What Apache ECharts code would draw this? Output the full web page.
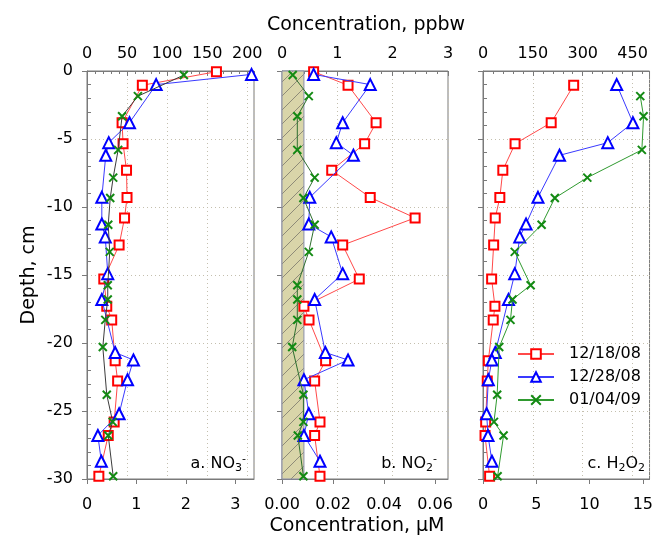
<!DOCTYPE html>
<html>
<head>
<meta charset="utf-8">
<script src="https://cdn.jsdelivr.net/npm/echarts@6/dist/echarts.min.js"></script>
<style>
  html, body { margin: 0; padding: 0; background: #fff; }
  #chart { width: 656px; height: 538px; }
</style>
</head>
<body>
<div id="chart"></div>
<script>
// Sampling dates
const dates = ['12/18/08', '12/28/08', '01/04/09'];

// Depths (cm) of each profile
const depth1218 = [-0.05, -1.05, -3.8, -5.35, -7.3, -9.3, -10.8, -12.8, -15.3, -17.3, -18.3, -21.3, -22.8, -25.8, -26.8, -29.8];
const depth1228 = [-0.25, -1.0, -3.8, -5.27, -6.2, -9.29, -11.25, -12.2, -14.9, -16.8, -20.7, -21.25, -22.7, -25.2, -26.8, -28.7];
const depth0104 = [-0.3, -1.85, -3.33, -5.8, -7.84, -9.34, -11.3, -13.3, -15.75, -16.8, -18.3, -20.3, -23.8, -25.8, -26.8, -29.8];

// Nitrate, µM
const no3_1218 = [2.62, 1.12, 0.71, 0.73, 0.80, 0.81, 0.76, 0.65, 0.34, 0.40, 0.50, 0.57, 0.62, 0.55, 0.43, 0.24];
const no3_1228 = [3.33, 1.40, 0.86, 0.44, 0.38, 0.30, 0.30, 0.37, 0.42, 0.30, 0.57, 0.94, 0.82, 0.65, 0.22, 0.29];
const no3_0104 = [1.96, 1.03, 0.71, 0.63, 0.53, 0.47, 0.43, 0.46, 0.42, 0.42, 0.37, 0.32, 0.40, 0.52, 0.43, 0.53];

// Nitrite, µM
const no2_1218 = [0.0124, 0.0259, 0.0369, 0.0324, 0.0195, 0.0346, 0.0522, 0.0238, 0.0303, 0.0086, 0.0106, 0.0171, 0.0128, 0.0149, 0.0128, 0.0149];
const no2_1228 = [0.0124, 0.0346, 0.0238, 0.0213, 0.0280, 0.0109, 0.0105, 0.0193, 0.0238, 0.0128, 0.0170, 0.0259, 0.0086, 0.0105, 0.0086, 0.0149];
const no2_0104 = [0.0042, 0.0105, 0.0060, 0.0060, 0.0128, 0.0084, 0.0128, 0.0105, 0.0060, 0.0060, 0.0060, 0.0040, 0.0084, 0.0084, 0.0062, 0.0084];
// Nitrite detection limit, µM (shaded band)
const no2DetectionLimit = 0.0086;

// Hydrogen peroxide, µM (no surface sample)
const h2o2_1218 = [8.51, 6.40, 3.01, 1.86, 1.58, 1.15, 1.00, 0.81, 1.12, 0.96, 0.50, 0.40, 0.25, 0.19, 0.62];
const h2o2_1228 = [12.55, 14.07, 11.71, 7.18, 5.16, 4.04, 3.45, 2.98, 2.39, 1.15, 0.84, 0.50, 0.34, 0.47, 0.84];
const h2o2_0104 = [14.76, 15.07, 14.91, 9.79, 6.74, 5.50, 2.98, 4.47, 2.77, 2.58, 1.52, 1.33, 1.03, 1.93, 1.37];

// Axis tick labels
const depthTicks = [0, -5, -10, -15, -20, -25, -30];

const FONT = "'DejaVu Sans', 'Liberation Sans', Arial, sans-serif";
const AXIS = '#7a7a7a';
const GRIDLINE = '#c4bfae';

const pairs = (xs, ys) => xs.map((x, i) => [x, ys[i]]);

// Grid layout (pixels)
const grids = [
  { left: 87, top: 71, width: 167, height: 408 },
  { left: 282, top: 71, width: 166, height: 408 },
  { left: 483, top: 71, width: 167, height: 408 }
];

function bottomAxis(gridIndex, max, interval, fmt) {
  return {
    type: 'value', gridIndex, position: 'bottom', min: 0, max, interval,
    axisLine: { show: true, onZero: false, lineStyle: { color: AXIS } },
    axisTick: { show: true, inside: false, length: 5, lineStyle: { color: AXIS } },
    minorTick: { show: false },
    splitLine: { show: false },
    axisLabel: {
      show: true, margin: 18, fontSize: 16, fontFamily: FONT, color: '#000',
      showMaxLabel: false, formatter: fmt
    }
  };
}

function topAxis(gridIndex, max, interval, showMax) {
  return {
    type: 'value', gridIndex, position: 'top', min: 0, max, interval,
    axisLine: { show: true, onZero: false, lineStyle: { color: AXIS } },
    axisTick: { show: true, inside: true, length: 5, lineStyle: { color: AXIS } },
    minorTick: { show: true, splitNumber: 5, length: 3, lineStyle: { color: AXIS } },
    splitLine: { show: true, lineStyle: { color: GRIDLINE, type: [1, 3], width: 1 } },
    axisLabel: {
      show: true, margin: 9, fontSize: 16, fontFamily: FONT, color: '#000',
      showMaxLabel: showMax
    }
  };
}

function depthAxis(gridIndex, showLabels) {
  return {
    type: 'value', gridIndex, min: depthTicks[depthTicks.length - 1], max: depthTicks[0], interval: 5,
    axisLine: { show: true, onZero: false, lineStyle: { color: AXIS } },
    axisTick: { show: true, inside: false, length: 5, lineStyle: { color: AXIS } },
    minorTick: { show: true, splitNumber: 5, length: -4, lineStyle: { color: AXIS } },
    splitLine: { show: true, lineStyle: { color: GRIDLINE, type: [1, 3], width: 1 } },
    axisLabel: { show: showLabels, margin: 14, fontSize: 16, fontFamily: FONT, color: '#000' }
  };
}

// Marker styles per date
const styles = [
  { symbol: 'rect', size: 9, mark: '#ff0000', line: '#ff4a4a' },
  { symbol: 'triangle', size: 11, mark: '#0000ff', line: '#3a3aff' },
  { symbol: 'path://M0 0L10 10M10 0L0 10', size: 8, mark: '#138a13', line: '#2f9a2f' }
];

function profile(k, xi, yi, depths, values, lineColor, extra) {
  const s = styles[k];
  return Object.assign({
    type: 'line', name: dates[k], xAxisIndex: xi, yAxisIndex: yi,
    data: pairs(values, depths),
    symbol: s.symbol, symbolSize: s.size, showAllSymbol: true,
    itemStyle: { color: k === 2 ? 'rgba(0,0,0,0)' : '#ffffff', borderColor: s.mark, borderWidth: 2 },
    lineStyle: { color: lineColor || s.line, width: 1 },
    emphasis: { disabled: true },
    z: 3 + k
  }, extra || {});
}

// Hatched fill for the nitrite detection-limit band
function hatchPattern() {
  const c = document.createElement('canvas');
  const n = 14;
  c.width = n; c.height = n;
  const g = c.getContext('2d');
  g.fillStyle = '#d9d5a9';
  g.fillRect(0, 0, n, n);
  g.strokeStyle = '#8e8b78';
  g.lineWidth = 1;
  g.beginPath();
  g.moveTo(-1, n + 1); g.lineTo(n + 1, -1);
  g.moveTo(-1, 1); g.lineTo(1, -1);
  g.moveTo(n - 1, n + 1); g.lineTo(n + 1, n - 1);
  g.stroke();
  return { image: c, repeat: 'repeat' };
}

const series = [
  // c. H2O2 (xAxis 4, yAxis 2)
  profile(0, 4, 2, depth1218.slice(1), h2o2_1218),
  profile(1, 4, 2, depth1228.slice(1), h2o2_1228),
  profile(2, 4, 2, depth0104.slice(1), h2o2_0104),
  // a. NO3- (xAxis 0, yAxis 0)
  profile(0, 0, 0, depth1218, no3_1218),
  profile(1, 0, 0, depth1228, no3_1228),
  profile(2, 0, 0, depth0104, no3_0104, '#3c3c3c'),
  // b. NO2- (xAxis 2, yAxis 1)
  profile(0, 2, 1, depth1218, no2_1218),
  profile(1, 2, 1, depth1228, no2_1228),
  profile(2, 2, 1, depth0104, no2_0104, '#2f6f2f'),
  // detection limit band
  {
    type: 'line', name: 'detection limit', xAxisIndex: 2, yAxisIndex: 1, data: [], z: 1,
    markArea: {
      silent: true,
      itemStyle: { color: hatchPattern(), borderColor: '#8a8ea8', borderWidth: 1 },
      data: [[{ coord: [0, depthTicks[0]] }, { coord: [no2DetectionLimit, depthTicks[depthTicks.length - 1]] }]]
    }
  }
];

function panelLabel(x, y, text) {
  return {
    type: 'text', x, y, z: 10,
    style: {
      text, align: 'right', verticalAlign: 'middle', fill: '#000',
      rich: {
        m: { fontSize: 16, fontFamily: FONT, lineHeight: 20, verticalAlign: 'middle' },
        s: { fontSize: 11, fontFamily: FONT, lineHeight: 11, verticalAlign: 'bottom' },
        p: { fontSize: 11, fontFamily: FONT, lineHeight: 11, verticalAlign: 'top' }
      }
    }
  };
}

const option = {
  animation: false,
  backgroundColor: '#ffffff',
  textStyle: { fontFamily: FONT },
  grid: grids.map(g => Object.assign({ show: true, borderColor: AXIS, borderWidth: 1, backgroundColor: 'transparent' }, g)),
  xAxis: [
    bottomAxis(0, 3.38, 1),
    topAxis(0, 208.4, 50, false),
    bottomAxis(1, 0.0651, 0.02, v => v.toFixed(2)),
    topAxis(1, 3, 1, true),
    bottomAxis(2, 15.63, 5),
    topAxis(2, 501, 150, false)
  ],
  yAxis: [depthAxis(0, true), depthAxis(1, false), depthAxis(2, false)],
  legend: {
    data: dates,
    orient: 'vertical',
    left: 512, top: 341,
    itemWidth: 36, itemHeight: 12, itemGap: 7,
    selectedMode: false,
    textStyle: { fontSize: 16, fontFamily: FONT, color: '#000', padding: [0, 0, 0, 10] }
  },
  graphic: [
    { type: 'text', x: 366, y: 25, style: { text: 'Concentration, ppbw', font: `19px ${FONT}`, fill: '#000', align: 'center', verticalAlign: 'middle' } },
    { type: 'text', x: 357, y: 526, style: { text: 'Concentration, μM', font: `19px ${FONT}`, fill: '#000', align: 'center', verticalAlign: 'middle' } },
    { type: 'text', x: 29, y: 275, rotation: Math.PI / 2, style: { text: 'Depth, cm', font: `19px ${FONT}`, fill: '#000', align: 'center', verticalAlign: 'middle' } },
    panelLabel(246, 464, '{m|a. NO}{s|3}{p|-}'),
    panelLabel(437, 464, '{m|b. NO}{s|2}{p|-}'),
    panelLabel(645, 464, '{m|c. H}{s|2}{m|O}{s|2}')
  ],
  series
};

const chart = echarts.init(document.getElementById('chart'), null, { renderer: 'canvas' });
chart.setOption(option);
</script>
</body>
</html>
